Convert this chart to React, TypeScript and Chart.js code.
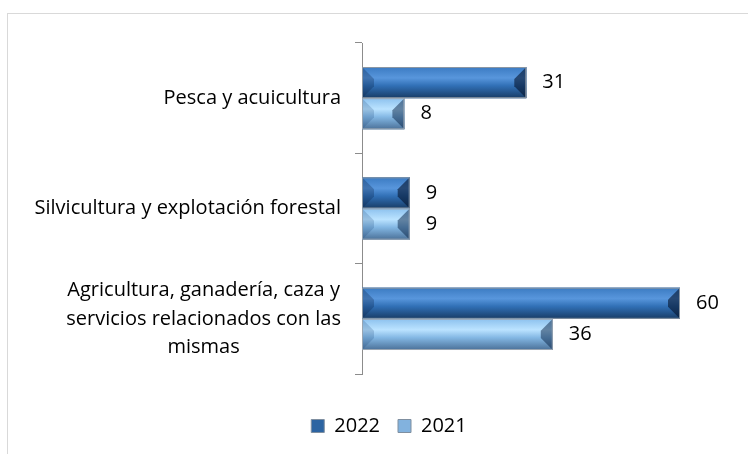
import React, { useEffect, useRef } from "react";
import { Chart, registerables } from "chart.js";

Chart.register(...registerables);

const categories: string[][] = [
  ["Pesca y acuicultura"],
  ["Silvicultura y explotación forestal"],
  ["Agricultura, ganadería, caza y", "servicios relacionados con las", "mismas"],
];
const seriesNames = ["2022", "2021"];
const values2022 = [31, 9, 60];
const values2021 = [8, 9, 36];
const xMin = 0;
const xMax = 70;

const FONT = "'Open Sans', 'Noto Sans', sans-serif";
const FONT_SIZE = 20;

const palettes = [
  {
    stops: ["#3b7bc2", "#5896dc", "#3170b6", "#183c66"],
    left: "rgba(10,35,75,0.3)",
    right: "rgba(5,20,45,0.6)",
    border: "#8a96a3",
    legend: "#2c64a2",
  },
  {
    stops: ["#8cc1ee", "#bbe3ff", "#84b8e4", "#4a7098"],
    left: "rgba(20,60,110,0.2)",
    right: "rgba(10,35,70,0.5)",
    border: "#9aa6b2",
    legend: "#82b2de",
  },
];

const bevelPlugin = {
  id: "bevel",
  afterDatasetsDraw(chart: any) {
    const ctx = chart.ctx as CanvasRenderingContext2D;
    chart.data.datasets.forEach((_ds: any, di: number) => {
      const meta = chart.getDatasetMeta(di);
      const pal = palettes[di];
      meta.data.forEach((el: any) => {
        const p = el.getProps(["x", "y", "base", "height"], true);
        const L = Math.min(p.x, p.base);
        const R = Math.max(p.x, p.base);
        const T = p.y - p.height / 2;
        const B = p.y + p.height / 2;
        const h = B - T;
        const b = Math.min(12, (R - L) / 2, h / 2.4);
        ctx.save();
        const g = ctx.createLinearGradient(0, T, 0, B);
        g.addColorStop(0, pal.stops[0]);
        g.addColorStop(0.35, pal.stops[1]);
        g.addColorStop(0.6, pal.stops[2]);
        g.addColorStop(1, pal.stops[3]);
        ctx.fillStyle = g;
        ctx.fillRect(L, T, R - L, h);
        ctx.beginPath();
        ctx.moveTo(L, T);
        ctx.lineTo(L + b, T + b);
        ctx.lineTo(L + b, B - b);
        ctx.lineTo(L, B);
        ctx.closePath();
        ctx.fillStyle = pal.left;
        ctx.fill();
        ctx.beginPath();
        ctx.moveTo(R, T);
        ctx.lineTo(R - b, T + b);
        ctx.lineTo(R - b, B - b);
        ctx.lineTo(R, B);
        ctx.closePath();
        ctx.fillStyle = pal.right;
        ctx.fill();
        ctx.strokeStyle = pal.border;
        ctx.lineWidth = 1;
        ctx.strokeRect(L + 0.5, T + 0.5, R - L - 1, h - 1);
        ctx.restore();
      });
    });
  },
};

const labelPlugin = {
  id: "labels",
  afterDraw(chart: any) {
    const ctx = chart.ctx as CanvasRenderingContext2D;
    ctx.save();
    ctx.font = `${FONT_SIZE}px ${FONT}`;
    ctx.fillStyle = "#000";
    ctx.textBaseline = "middle";
    chart.data.datasets.forEach((ds: any, di: number) => {
      const meta = chart.getDatasetMeta(di);
      meta.data.forEach((el: any, i: number) => {
        const p = el.getProps(["x", "y"], true);
        ctx.textAlign = "left";
        ctx.fillText(String(ds.data[i]), p.x + 16, p.y);
      });
    });
    const ys = chart.scales.y;
    const right = ys.right - 21;
    const lineH = 28.5;
    categories.forEach((lines, i) => {
      const yc = ys.getPixelForValue(i);
      const w = Math.max(...lines.map((l) => ctx.measureText(l).width));
      const cx = right - w / 2;
      ctx.textAlign = "center";
      lines.forEach((l, j) => {
        ctx.fillText(l, cx, yc + (j - (lines.length - 1) / 2) * lineH);
      });
    });
    ctx.restore();
  },
};

export default function App() {
  const ref = useRef<HTMLCanvasElement | null>(null);
  useEffect(() => {
    if (!ref.current) return;
    const chart = new Chart(ref.current, {
      type: "bar",
      data: {
        labels: categories.map((c) => c.join(" ")),
        datasets: [
          {
            label: seriesNames[0],
            data: values2022,
            backgroundColor: palettes[0].legend,
            categoryPercentage: 0.565,
            barPercentage: 1,
          },
          {
            label: seriesNames[1],
            data: values2021,
            backgroundColor: palettes[1].legend,
            categoryPercentage: 0.565,
            barPercentage: 1,
          },
        ],
      },
      options: {
        indexAxis: "y",
        animation: false,
        responsive: false,
        maintainAspectRatio: false,
        layout: { padding: { left: 45, right: 15, top: 43, bottom: 8 } },
        scales: {
          x: {
            min: xMin,
            max: xMax,
            display: true,
            grid: { display: false },
            border: { display: false },
            ticks: { display: false },
            afterFit: (s: any) => {
              s.height = 24;
            },
          },
          y: {
            type: "category",
            offset: true,
            grid: {
              offset: true,
              drawOnChartArea: false,
              drawTicks: true,
              tickLength: 7,
              color: "#8c8c8c",
              lineWidth: 1,
            },
            border: { display: true, color: "#8c8c8c", width: 1 },
            ticks: { display: false },
            afterFit: (s: any) => {
              s.width = 317;
            },
          },
        },
        plugins: {
          tooltip: { enabled: false },
          legend: {
            position: "bottom",
            labels: {
              font: { family: FONT, size: 20 },
              color: "#000",
              boxWidth: 13,
              boxHeight: 13,
              padding: 18,
              generateLabels: (c: any) =>
                c.data.datasets.map((ds: any, i: number) => ({
                  text: ds.label,
                  fillStyle: palettes[i].legend,
                  strokeStyle: "#7f8fa0",
                  lineWidth: 1,
                  datasetIndex: i,
                  hidden: false,
                  fontColor: "#000",
                })),
            },
          },
        },
      },
      plugins: [bevelPlugin, labelPlugin],
    } as any);
    return () => chart.destroy();
  }, []);
  return (
    <div style={{ position: "absolute", left: 0, top: 0, width: 748, height: 454, overflow: "hidden", background: "#fff" }}>
      <div
        style={{
          position: "absolute",
          left: 7,
          top: 13,
          width: 800,
          height: 500,
          border: "1px solid #d9d9d9",
          boxSizing: "border-box",
        }}
      />
      <canvas ref={ref} width={748} height={454} style={{ position: "absolute", left: 0, top: 0, width: 748, height: 454 }} />
    </div>
  );
}
